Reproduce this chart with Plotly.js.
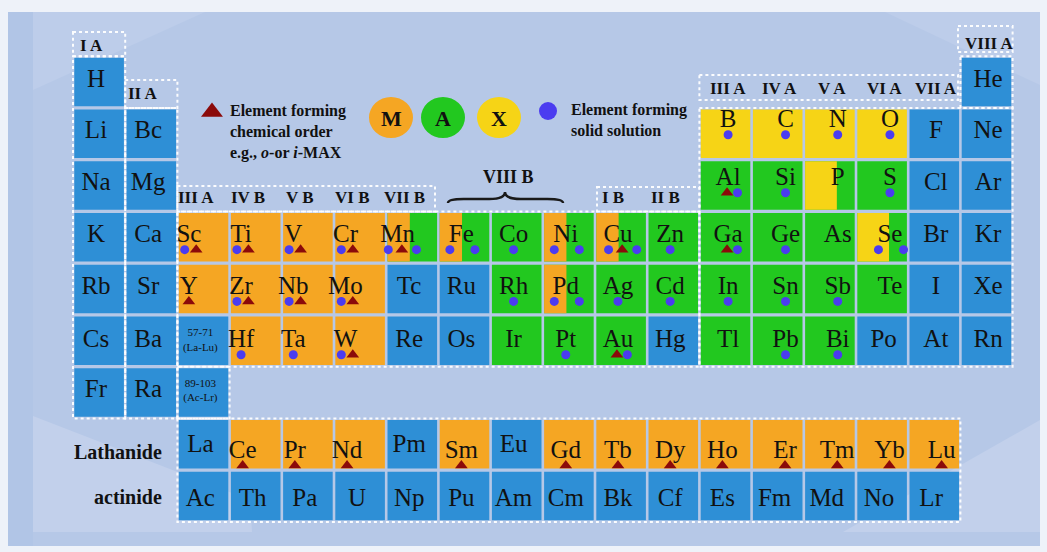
<!DOCTYPE html>
<html><head><meta charset="utf-8">
<script src="https://cdn.plot.ly/plotly-3.0.1.min.js"></script>
<style>html,body{margin:0;padding:0;background:#eef2f9;}#chart{width:1047px;height:552px;}</style>
</head><body><div id="chart"></div>
<script>
// ================= DATA =================
const p1Symbols = ["H","He"];
const p1Groups  = [1,18];
const p2Symbols = ["Li","Bc","B","C","N","O","F","Ne"];
const p2Groups  = [1,2,13,14,15,16,17,18];
const p3Symbols = ["Na","Mg","Al","Si","P","S","Cl","Ar"];
const p3Groups  = [1,2,13,14,15,16,17,18];
const p4Symbols = ["K","Ca","Sc","Ti","V","Cr","Mn","Fe","Co","Ni","Cu","Zn","Ga","Ge","As","Se","Br","Kr"];
const p5Symbols = ["Rb","Sr","Y","Zr","Nb","Mo","Tc","Ru","Rh","Pd","Ag","Cd","In","Sn","Sb","Te","I","Xe"];
const p6Symbols = ["Cs","Ba","57-71<br>(La-Lu)","Hf","Ta","W","Re","Os","Ir","Pt","Au","Hg","Tl","Pb","Bi","Po","At","Rn"];
const p7Symbols = ["Fr","Ra","89-103<br>(Ac-Lr)"];
const lanthanides = ["La","Ce","Pr","Nd","Pm","Sm","Eu","Gd","Tb","Dy","Ho","Er","Tm","Yb","Lu"];
const actinides   = ["Ac","Th","Pa","U","Np","Pu","Am","Cm","Bk","Cf","Es","Fm","Md","No","Lr"];

// MAX roles
const mElements  = ["Sc","Ti","V","Cr","Y","Zr","Nb","Mo","Hf","Ta","W","Ce","Pr","Nd","Sm","Gd","Tb","Dy","Ho","Er","Tm","Yb","Lu"];
const aElements  = ["Al","Si","S","Co","Zn","Ga","Ge","As","Rh","Ag","Cd","In","Sn","Sb","Te","Ir","Pt","Au","Tl","Pb","Bi"];
const xElements  = ["B","C","N","O"];
const maElements = ["Mn","Fe","Ni","Cu","Pd"];   // M + A
const xaElements = ["P","Se"];                   // X + A

// Element forming chemical order (triangle) / solid solution (dot)
const orderElements = ["Sc","Ti","V","Cr","Mn","Cu","Al","Ga","Y","Zr","Nb","Mo","W","Au",
  "Ce","Pr","Nd","Sm","Gd","Tb","Dy","Ho","Er","Tm","Yb","Lu"];
const solidElements = ["B","C","N","O","Al","Si","S","Sc","Ti","V","Cr","Mn","Fe","Co","Ni","Cu","Zn",
  "Ga","Ge","Se","Zr","Nb","Mo","Rh","Pd","Ag","Cd","In","Sn","Sb","Hf","Ta","W","Pt","Au","Pb","Bi"];

const groupLabels = ["I A","II A","III A","IV B","V B","VI B","VII B","VIII B","I B","II B","III A","IV A","V A","VI A","VII A","VIII A"];
const groupCols   = [1,2,3,4,5,6,7,9,11,12,13,14,15,16,17,18];

// ================= BUILD =================
const COLORS = {B:"#2e8fd6", M:"#f5a623", A:"#22c81f", X:"#f6d416"};
const TRI = "#8b0a0a", DOT = "#4b3cf0";
const SERIF = "Liberation Serif, Times New Roman, serif";

// pixel -> axis helpers (layout only)
const X = px => (px - 46.9) / 52.2;
const Y = py => 1 + (py - 82) / 51.75;

const cells = [];
function addRow(syms, cols, row){ syms.forEach((s,i)=>cells.push({s, col:cols[i], row})); }
const seq = (a,n)=>Array.from({length:n},(_,i)=>a+i);
addRow(p1Symbols,p1Groups,1);
addRow(p2Symbols,p2Groups,2);
addRow(p3Symbols,p3Groups,3);
addRow(p4Symbols,seq(1,18),4);
addRow(p5Symbols,seq(1,18),5);
addRow(p6Symbols,seq(1,18),6);
addRow(p7Symbols,seq(1,3),7);
addRow(lanthanides,seq(3,15),8);
addRow(actinides,seq(3,15),9);

function role(s){
  if (mElements.includes(s)) return "M";
  if (aElements.includes(s)) return "A";
  if (xElements.includes(s)) return "X";
  if (maElements.includes(s)) return "MA";
  if (xaElements.includes(s)) return "XA";
  return "B";
}
function textDx(c){
  const r=c.role, col=c.col;
  if (c.row<=7){
    if (col<=2) return -0.06;
    if (col<=7 && r.includes("M")) return -0.28;
    if (col<=12) return -0.06;
    if (col===13) return 0.05;
    if (col<=16 && r!=="B") return 0.15;
    return 0.03;
  }
  if (r==="M" && col<=6) return -0.25;
  if (r==="M" && col>=14) return 0.14;
  return -0.06;
}
function textDy(c){
  if (c.row===8) return c.role==="M" ? 0.14 : 0.02;
  if (c.row===9) return 0.07;
  if (c.role==="X") return -0.25;
  if (c.row===3 && c.role!=="B") return -0.13;
  if (c.row===6) return 0.0;
  return -0.03;
}

const shapes = [];
// background panel and decorative bands
shapes.push({type:"rect",xref:"x",yref:"y",x0:X(8),x1:X(1040),y0:Y(12),y1:Y(546),fillcolor:"#b6c8e7",line:{width:0},layer:"below"});
shapes.push({type:"rect",xref:"x",yref:"y",x0:X(8),x1:X(33),y0:Y(12),y1:Y(546),fillcolor:"#b1c5e6",line:{width:0},layer:"below"});
shapes.push({type:"path",xref:"x",yref:"y",path:`M ${X(33)},${Y(12)} L ${X(205)},${Y(12)} L ${X(33)},${Y(90)} Z`,fillcolor:"#bdcdea",line:{width:0},layer:"below"});
shapes.push({type:"path",xref:"x",yref:"y",path:`M ${X(885)},${Y(12)} L ${X(1040)},${Y(12)} L ${X(1040)},${Y(85)} Z`,fillcolor:"#bdcdea",line:{width:0},layer:"below"});
shapes.push({type:"path",xref:"x",yref:"y",path:`M ${X(33)},${Y(416)} L ${X(250)},${Y(500)} L ${X(252)},${Y(532)} L ${X(33)},${Y(532)} Z`,fillcolor:"#c2d0eb",line:{width:0},layer:"below"});
shapes.push({type:"path",xref:"x",yref:"y",path:`M ${X(843)},${Y(532)} L ${X(1040)},${Y(420)} L ${X(1040)},${Y(532)} Z`,fillcolor:"#c2d0eb",line:{width:0},layer:"below"});

const gx=0.025, gy=0.03;
cells.forEach(c=>{
  c.role = role(c.s);
  const x0=c.col-0.5+gx, x1=c.col+0.5-gx, y0=c.row-0.5+gy, y1=c.row+0.5-gy;
  if (c.role==="MA" || c.role==="XA"){
    const left = c.role==="MA" ? COLORS.M : COLORS.X;
    const frac = c.role==="MA" ? 0.45 : 0.64;
    const xm = x0 + (x1-x0)*frac;
    shapes.push({type:"rect",xref:"x",yref:"y",x0:x0,x1:x1,y0:y0,y1:y1,fillcolor:COLORS.A,line:{width:0},layer:"below"});
    shapes.push({type:"rect",xref:"x",yref:"y",x0:x0,x1:xm,y0:y0,y1:y1,fillcolor:left,line:{width:0},layer:"below"});
  } else {
    shapes.push({type:"rect",xref:"x",yref:"y",x0:x0,x1:x1,y0:y0,y1:y1,fillcolor:COLORS[c.role],line:{width:0},layer:"below"});
  }
});

// dotted outlines
const dotted = {color:"rgba(255,255,255,0.95)",width:2,dash:"dot"};
[
 [0.5,1.5,Y(32),0.5],[0.5,1.5,0.5,7.5],
 [1.5,2.5,Y(80),1.5],[1.5,2.5,1.5,7.5],
 [2.5,X(435),Y(186),3.5],[X(597),12.5,Y(187),3.5],
 [2.5,12.5,3.5,6.5],[2.5,3.5,6.5,7.5],
 [12.5,X(958),Y(75),Y(100)],[X(958),18.5,Y(26),Y(52)],
 [12.5,18.5,1.5,6.5],[17.5,18.5,0.5,1.5],
 [2.5,17.5,7.5,9.5]
].forEach(b=>shapes.push({type:"rect",xref:"x",yref:"y",x0:b[0],x1:b[1],y0:b[2],y1:b[3],line:dotted,fillcolor:"rgba(0,0,0,0)",layer:"below"}));

// brace for VIII B
{
  const xL=X(448), xR=X(563), xM=X(505), yE=Y(203), yB=Y(199), yP=Y(192), d=0.3;
  shapes.push({type:"path",xref:"x",yref:"y",
    path:`M ${xL},${yE} Q ${xL},${yB} ${xL+d},${yB} L ${xM-d},${yB} Q ${xM},${yB} ${xM},${yP} Q ${xM},${yB} ${xM+d},${yB} L ${xR-d},${yB} Q ${xR},${yB} ${xR},${yE}`,
    line:{color:"#1a1a1a",width:2.5},layer:"below"});
}
// M A X circles
const maxLetters = ["M","A","X"], maxColors=[COLORS.M,COLORS.A,COLORS.X], maxPx=[391,443,499];
maxLetters.forEach((l,i)=>shapes.push({type:"circle",xref:"x",yref:"y",x0:X(maxPx[i]-22),x1:X(maxPx[i]+22),y0:Y(97),y1:Y(138),fillcolor:maxColors[i],line:{width:0},layer:"below"}));

// texts
const tx=[],ty=[],tt=[],ts=[];
const dotX=[],dotY=[],triX=[],triY=[];
cells.forEach(c=>{
  const x = c.col + textDx(c), y = c.row + textDy(c);
  tx.push(x); ty.push(y); tt.push(c.s); ts.push(c.s.includes("<br>")?11:25);
  const hasT = orderElements.includes(c.s), hasD = solidElements.includes(c.s);
  const my = y + 0.27;
  const split = c.role==="MA" || c.role==="XA";
  let pat="";
  if (split && hasD) pat = hasT ? "dtd" : "dd";
  else if (hasT && hasD) pat = c.role==="A" ? "td" : "dt";
  else if (hasT) pat="t"; else if (hasD) pat="d";
  const offs = {"d":[0],"t":[0],"dt":[-0.08,0.14],"td":[-0.02,0.18],"dd":[-0.22,0.26],"dtd":[-0.18,0.08,0.36]}[pat] || [];
  pat.split("").forEach((k,i)=>{
    if (k==="d"){dotX.push(x+offs[i]);dotY.push(my);} else {triX.push(x+offs[i]);triY.push(my);}
  });
});

const traces = [
  {type:"scatter",mode:"text",x:tx,y:ty,text:tt,textposition:"middle center",
   textfont:{family:SERIF,size:ts,color:"#111"},hoverinfo:"skip",showlegend:false},
  {type:"scatter",mode:"markers",x:dotX,y:dotY,marker:{symbol:"circle",size:9,color:DOT},hoverinfo:"skip",showlegend:false},
  {type:"scatter",mode:"markers",x:triX,y:triY,marker:{symbol:"triangle-up",size:11,color:TRI},hoverinfo:"skip",showlegend:false},
  // legend symbols
  {type:"scatter",mode:"markers",x:[X(212)],y:[Y(112)],marker:{symbol:"triangle-up",size:19,color:TRI},hoverinfo:"skip",showlegend:false},
  {type:"scatter",mode:"markers",x:[X(548)],y:[Y(111)],marker:{symbol:"circle",size:18,color:DOT},hoverinfo:"skip",showlegend:false}
];

const annotations = [];
groupLabels.forEach((g,i)=>{
  const col = groupCols[i];
  let x = col + (col<=12 ? -0.15 : 0.04), y;
  if (col===1) y=Y(45); else if (col===2) y=Y(93);
  else if (g==="VIII B") y=Y(177);
  else if (col<=12) y=Y(197);
  else if (col<=17) y=Y(88);
  else y=Y(43);
  annotations.push({x, y, xref:"x", yref:"y", text:`<b>${g}</b>`, showarrow:false,
    font:{family:SERIF,size:g==="VIII B"?18:17,color:"#111"}});
});
maxLetters.forEach((l,i)=>annotations.push({x:X(maxPx[i]),y:Y(118),xref:"x",yref:"y",text:`<b>${l}</b>`,showarrow:false,font:{family:SERIF,size:22,color:"#111"}}));
annotations.push({x:X(228),y:Y(132),xref:"x",yref:"y",xanchor:"left",align:"left",showarrow:false,
  text:"<b>Element forming<br>chemical order<br>e.g., <i>o</i>-or <i>i</i>-MAX</b>",font:{family:SERIF,size:16,color:"#111"}});
annotations.push({x:X(569),y:Y(120),xref:"x",yref:"y",xanchor:"left",align:"left",showarrow:false,
  text:"<b>Element forming<br>solid solution</b>",font:{family:SERIF,size:16,color:"#111"}});
annotations.push({x:X(164),y:Y(452),xref:"x",yref:"y",xanchor:"right",showarrow:false,text:"<b>Lathanide</b>",font:{family:SERIF,size:20,color:"#111"}});
annotations.push({x:X(164),y:Y(497),xref:"x",yref:"y",xanchor:"right",showarrow:false,text:"<b>actinide</b>",font:{family:SERIF,size:20,color:"#111"}});

const layout = {
  width:1047,height:552,margin:{l:0,r:0,t:0,b:0},
  paper_bgcolor:"#eef2f9",plot_bgcolor:"rgba(0,0,0,0)",
  xaxis:{range:[X(0),X(1047)],visible:false,fixedrange:true},
  yaxis:{range:[Y(552),Y(0)],visible:false,fixedrange:true},
  shapes, annotations, showlegend:false
};
Plotly.newPlot("chart",traces,layout,{staticPlot:true,displayModeBar:false});
</script></body></html>
